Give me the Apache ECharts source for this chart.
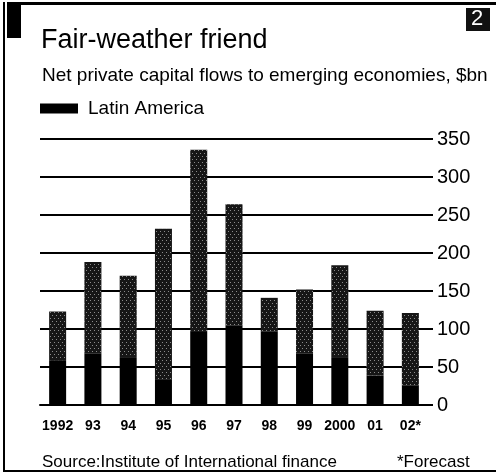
<!DOCTYPE html>
<html>
<head>
    <meta charset="UTF-8">
    <title>Fair-weather friend</title>
    <script src="https://cdn.jsdelivr.net/npm/echarts@6/dist/echarts.min.js"></script>
    <style>
        html, body { margin: 0; padding: 0; background: #fff; }
        #chart { width: 496px; height: 474px; }
    </style>
</head>
<body>
<div id="chart"></div>
<script>
    // years on the x axis
    var years = ['1992', '93', '94', '95', '96', '97', '98', '99', '2000', '01', '02*'];
    // Latin America part of each bar, $bn
    var latinAmerica = [59, 68, 63, 34, 96, 105, 97, 68, 63, 39, 26];
    // total net private capital flows, $bn
    var totalFlows = [123, 188, 170, 232, 336, 264, 141, 152, 184, 124, 121];
    var yTicks = [0, 50, 100, 150, 200, 250, 300, 350];

    // rest of emerging economies = total - latin america
    var otherFlows = totalFlows.map(function (t, i) { return t - latinAmerica[i]; });

    var myChart = echarts.init(document.getElementById('chart'));
    var font = '"Liberation Sans", Arial, sans-serif';

    var option = {
        animation: false,
        backgroundColor: '#fff',
        title: [{
            text: 'Fair-weather friend',
            left: 36, top: 22,
            textStyle: { fontFamily: font, fontSize: 27, fontWeight: 'normal', color: '#000' }
        }, {
            text: 'Net private capital flows to emerging economies, $bn',
            left: 37, top: 61,
            textStyle: { fontFamily: font, fontSize: 19, fontWeight: 'normal', color: '#000' }
        }, {
            text: 'Source:Institute of International finance',
            left: 37, top: 449,
            textStyle: { fontFamily: font, fontSize: 17, fontWeight: 'normal', color: '#000' }
        }, {
            text: '*Forecast',
            left: 392, top: 449,
            textStyle: { fontFamily: font, fontSize: 17, fontWeight: 'normal', color: '#000' }
        }],
        legend: {
            data: ['Latin America'],
            left: 35, top: 94,
            icon: 'rect',
            itemWidth: 38, itemHeight: 10,
            itemGap: 10,
            textStyle: { fontFamily: font, fontSize: 19, color: '#000', padding: [0, 0, 0, 5] }
        },
        grid: { left: 40, right: 68, top: 139, bottom: 69 },
        xAxis: {
            type: 'category',
            data: years,
            axisLine: { lineStyle: { color: '#000', width: 2 } },
            axisTick: { show: false },
            axisLabel: {
                interval: 0,
                fontFamily: font, fontSize: 14, fontWeight: 'bold', color: '#000', margin: 14
            }
        },
        yAxis: {
            type: 'value',
            position: 'right',
            min: 0, max: 350, interval: 50,
            axisLine: { show: false },
            axisTick: { show: true, length: 5, lineStyle: { color: '#000', width: 2 } },
            splitLine: { lineStyle: { color: '#000', width: 2 } },
            axisLabel: {
                fontFamily: font, fontSize: 20, color: '#000', margin: 9,
                formatter: function (v) { return yTicks.indexOf(v) >= 0 ? String(v) : ''; }
            }
        },
        series: [{
            name: 'Latin America',
            type: 'bar',
            stack: 'flows',
            barWidth: 17,
            data: latinAmerica,
            itemStyle: { color: '#000' }
        }, {
            name: 'Other',
            type: 'bar',
            stack: 'flows',
            barWidth: 17,
            data: otherFlows,
            itemStyle: {
                color: '#161616',
                decal: {
                    symbol: 'rect',
                    symbolSize: 1,
                    color: 'rgba(255,255,255,0.5)',
                    dashArrayX: [[1, 3], [0, 2, 1, 1]],
                    dashArrayY: [1, 2],
                    rotation: 0
                }
            }
        }],
        graphic: [
            // frame: top rule, left rule, bottom rule
            { type: 'rect', shape: { x: 7, y: 2, width: 489, height: 3 }, style: { fill: '#000' } },
            { type: 'rect', shape: { x: 3, y: 2, width: 2, height: 470 }, style: { fill: '#000' } },
            { type: 'rect', shape: { x: 3, y: 470, width: 493, height: 2 }, style: { fill: '#000' } },
            // black block top left
            { type: 'rect', shape: { x: 7, y: 2, width: 14, height: 36 }, style: { fill: '#000' } },
            // chart number box
            { type: 'rect', shape: { x: 466, y: 8, width: 24, height: 23 }, style: { fill: '#111' } },
            {
                type: 'text', left: 471, top: 8,
                style: { text: '2', fill: '#fff', font: '22px "Liberation Sans", Arial, sans-serif' }
            }
        ]
    };

    myChart.setOption(option);
</script>
</body>
</html>
